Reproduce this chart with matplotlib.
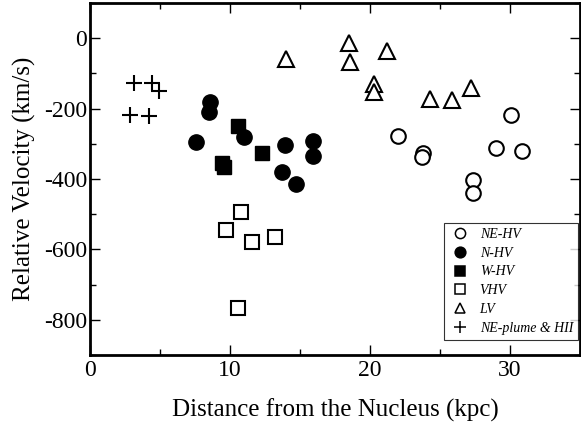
import matplotlib
matplotlib.use("Agg")
import matplotlib.pyplot as plt
from matplotlib.ticker import MultipleLocator

plt.rcParams['font.family'] = ['Liberation Serif', 'DejaVu Serif']
plt.rcParams['axes.unicode_minus'] = False

ne_hv_x = [22.0, 23.8, 23.7, 27.35, 27.4, 30.1, 29.0, 30.9]
ne_hv_y = [-277, -325, -339, -404, -441, -218, -312, -320]

n_hv_x = [8.6, 8.5, 7.6, 11.0, 13.9, 15.9, 15.95, 13.7, 14.7]
n_hv_y = [-182, -209, -296, -282, -303, -291, -334, -379, -415]

w_hv_x = [10.55, 9.4, 9.6, 12.3]
w_hv_y = [-251, -355, -365, -325]

vhv_x = [10.8, 9.7, 11.6, 13.2, 10.6]
vhv_y = [-493, -545, -579, -566, -768]

lv_x = [14.0, 18.5, 18.6, 21.2, 20.3, 20.3, 24.3, 25.9, 27.2]
lv_y = [-60, -15, -69, -37, -129, -153, -174, -175, -141]

plume_x = [3.15, 4.4, 4.9, 2.85, 4.2]
plume_y = [-127, -127, -150, -217, -222]

fig = plt.figure(figsize=(5.81, 4.22), dpi=100)
ax = fig.add_axes([0.155, 0.159, 0.843, 0.834])

ax.plot(ne_hv_x, ne_hv_y, 'o', ms=10.5, mfc='white', mec='black', mew=1.5, ls='none', label='NE-HV')
ax.plot(n_hv_x, n_hv_y, 'o', ms=11, mfc='black', mec='black', ls='none', label='N-HV')
ax.plot(w_hv_x, w_hv_y, 's', ms=10.5, mfc='black', mec='black', ls='none', label='W-HV')
ax.plot(vhv_x, vhv_y, 's', ms=10, mfc='white', mec='black', mew=1.5, ls='none', label='VHV')
ax.plot(lv_x, lv_y, '^', ms=11, mfc='white', mec='black', mew=1.5, ls='none', label='LV')
ax.plot(plume_x, plume_y, '+', ms=12, mec='black', mew=1.5, ls='none', label='NE-plume & HII')

ax.set_xlim(0, 35)
ax.set_ylim(-900, 100)
ax.xaxis.set_major_locator(MultipleLocator(10))
ax.xaxis.set_minor_locator(MultipleLocator(5))
ax.yaxis.set_major_locator(MultipleLocator(200))
ax.yaxis.set_minor_locator(MultipleLocator(100))
ax.tick_params(which='both', direction='in', top=True, right=True, labelsize=17)
ax.tick_params(which='major', length=7, width=1)
ax.tick_params(which='minor', length=4, width=1)
ax.tick_params(axis='y', pad=2)
ax.tick_params(axis='x', pad=4)
for s in ax.spines.values():
    s.set_linewidth(2)

ax.set_xlabel('Distance from the Nucleus (kpc)', fontsize=18, labelpad=12)
ax.set_ylabel('Relative Velocity (km/s)', fontsize=18, labelpad=6)

leg = ax.legend(loc='lower right', bbox_to_anchor=(0.996, 0.043), borderaxespad=0,
                prop={'style': 'italic', 'size': 10}, markerscale=0.7,
                frameon=True, fancybox=False, edgecolor='black', handletextpad=0.6,
                labelspacing=0.42, borderpad=0.35, handlelength=1.6)
leg.get_frame().set_linewidth(0.8)
for h in leg.legend_handles:
    h.set_markeredgewidth(1.1)

fig.savefig('out.png', dpi=100)
